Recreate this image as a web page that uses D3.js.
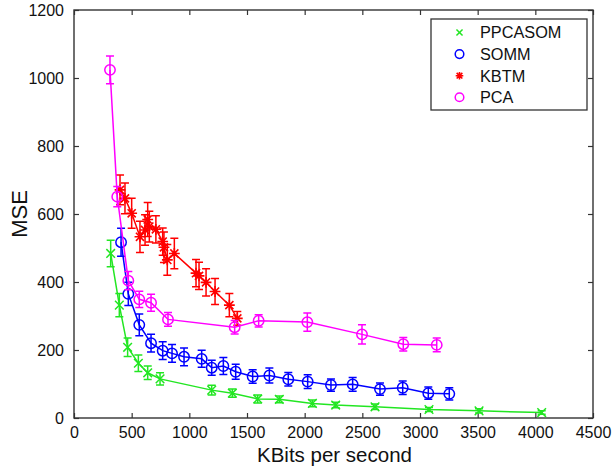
<!DOCTYPE html>
<html>
<head>
<meta charset="utf-8">
<script src="https://cdn.jsdelivr.net/npm/d3@7"></script>
<style>
  html, body { margin: 0; padding: 0; background: #fff; }
  svg { display: block; font-family: "Liberation Sans", Arial, Helvetica, sans-serif; }
</style>
</head>
<body>
<svg id="chart" width="612" height="468"></svg>
<script>
// Rate–distortion curves: MSE versus bitrate, mean with error bars
const xTicks = [0, 500, 1000, 1500, 2000, 2500, 3000, 3500, 4000, 4500];
const yTicks = [0, 200, 400, 600, 800, 1000, 1200];

const seriesNames = ["PPCASOM", "SOMM", "KBTM", "PCA"];

const ppcasomX = [318, 393, 465, 558, 639, 746, 1194, 1373, 1593, 1780, 2067, 2269, 2610, 3078, 3512, 4055];
const ppcasomY = [484, 332, 208, 161, 133, 115, 82, 73, 56, 55, 43, 38, 33, 25, 21, 16];
const ppcasomErr = [39, 34, 27, 24, 20, 18, 14, 12, 12, 10, 10, 8, 8, 6, 6, 5];

const sommX = [408, 471, 566, 668, 769, 850, 954, 1107, 1194, 1295, 1402, 1549, 1694, 1858, 2026, 2228, 2416, 2653, 2850, 3072, 3254];
const sommY = [517, 365, 274, 220, 198, 190, 180, 174, 148, 153, 136, 122, 125, 114, 107, 97, 99, 85, 89, 73, 71];
const sommErr = [41, 34, 32, 26, 26, 26, 26, 25, 22, 25, 22, 20, 22, 20, 20, 18, 20, 18, 20, 18, 18];

const kbtmX = [399, 442, 500, 572, 616, 639, 653, 710, 769, 780, 809, 870, 1058, 1084, 1145, 1223, 1347, 1416];
const kbtmY = [671, 646, 602, 533, 553, 584, 563, 555, 519, 502, 465, 484, 426, 418, 399, 372, 332, 293];
const kbtmErr = [44, 45, 44, 46, 45, 50, 45, 40, 40, 45, 45, 45, 40, 40, 40, 38, 34, 20];

const pcaX = [312, 375, 471, 566, 668, 815, 1393, 1601, 2023, 2497, 2855, 3145];
const pcaY = [1024, 651, 404, 349, 339, 290, 267, 286, 282, 246, 217, 215];
const pcaErr = [41, 30, 27, 24, 25, 20, 20, 18, 27, 28, 20, 20];

const colors = ["#22e622", "#0000ff", "#ff0000", "#ff00ff"];
const markers = ["x", "o", "*", "o"];

const series = [
  { x: ppcasomX, y: ppcasomY, e: ppcasomErr },
  { x: sommX, y: sommY, e: sommErr },
  { x: kbtmX, y: kbtmY, e: kbtmErr },
  { x: pcaX, y: pcaY, e: pcaErr }
].map((s, i) => ({
  name: seriesNames[i], color: colors[i], marker: markers[i],
  pts: s.x.map((v, j) => ({ x: v, y: s.y[j], e: s.e[j] }))
}));

const plot = { left: 74, right: 593, top: 10, bottom: 418 };
const svg = d3.select("#chart");

const x = d3.scaleLinear().domain([0, 4500]).range([plot.left, plot.right]);
const y = d3.scaleLinear().domain([0, 1200]).range([plot.bottom, plot.top]);

const frameColor = "#333";
const tickLen = 5;

// axes with inward ticks on all four sides
const axisStyle = g => {
  g.select(".domain").remove();
  g.selectAll(".tick line").attr("stroke", frameColor).attr("stroke-width", 1.2);
  g.selectAll(".tick text").attr("fill", "#111").style("font-size", "16px")
    .style("font-family", "'Liberation Sans', Arial, sans-serif");
};

svg.append("g").attr("transform", `translate(0,${plot.bottom})`)
  .call(d3.axisBottom(x).tickValues(xTicks).tickSizeInner(-tickLen).tickSizeOuter(0).tickPadding(9).tickFormat(d3.format("d")))
  .call(axisStyle);
svg.append("g").attr("transform", `translate(0,${plot.top})`)
  .call(d3.axisTop(x).tickValues(xTicks).tickSizeInner(-tickLen).tickSizeOuter(0).tickFormat(""))
  .call(axisStyle);
svg.append("g").attr("transform", `translate(${plot.left},0)`)
  .call(d3.axisLeft(y).tickValues(yTicks).tickSizeInner(-tickLen).tickSizeOuter(0).tickPadding(10).tickFormat(d3.format("d")))
  .call(axisStyle);
svg.append("g").attr("transform", `translate(${plot.right},0)`)
  .call(d3.axisRight(y).tickValues(yTicks).tickSizeInner(-tickLen).tickSizeOuter(0).tickFormat(""))
  .call(axisStyle);

svg.append("rect")
  .attr("x", plot.left).attr("y", plot.top)
  .attr("width", plot.right - plot.left).attr("height", plot.bottom - plot.top)
  .attr("fill", "none").attr("stroke", frameColor).attr("stroke-width", 1.4);

// axis titles
svg.append("text")
  .attr("x", (plot.left + plot.right) / 2 + 1).attr("y", 462)
  .attr("text-anchor", "middle").attr("fill", "#111")
  .style("font-size", "20.5px")
  .text("KBits per second");
svg.append("text")
  .attr("transform", `translate(27,${(plot.top + plot.bottom) / 2}) rotate(-90)`)
  .attr("text-anchor", "middle").attr("fill", "#111")
  .style("font-size", "22px")
  .text("MSE");

// marker drawing
function drawMarker(g, type, cx, cy, color, size) {
  const r = size;
  if (type === "o") {
    g.append("circle").attr("cx", cx).attr("cy", cy).attr("r", r)
      .attr("fill", "none").attr("stroke", color).attr("stroke-width", 1.5);
  } else if (type === "x") {
    const d = r * 0.8;
    g.append("path")
      .attr("d", `M${cx - d},${cy - d}L${cx + d},${cy + d}M${cx - d},${cy + d}L${cx + d},${cy - d}`)
      .attr("stroke", color).attr("stroke-width", 1.5).attr("fill", "none");
  } else if (type === "*") {
    const d = r * 0.75;
    g.append("path")
      .attr("d", `M${cx - r},${cy}L${cx + r},${cy}M${cx},${cy - r}L${cx},${cy + r}` +
                 `M${cx - d},${cy - d}L${cx + d},${cy + d}M${cx - d},${cy + d}L${cx + d},${cy - d}`)
      .attr("stroke", color).attr("stroke-width", 1.6).attr("fill", "none");
  }
}

const line = d3.line().x(d => x(d.x)).y(d => y(d.y));
const cap = 4;

// draw series in order: later ones on top
series.forEach(s => {
  const g = svg.append("g");
  g.append("path").datum(s.pts).attr("d", line)
    .attr("fill", "none").attr("stroke", s.color).attr("stroke-width", 1.5);
  s.pts.forEach(p => {
    const px = x(p.x), y0 = y(p.y - p.e), y1 = y(p.y + p.e);
    g.append("path")
      .attr("d", `M${px},${y0}L${px},${y1}M${px - cap},${y0}L${px + cap},${y0}M${px - cap},${y1}L${px + cap},${y1}`)
      .attr("stroke", s.color).attr("stroke-width", 1.5).attr("fill", "none");
    drawMarker(g, s.marker, px, y(p.y), s.color, s.marker === "o" ? 5.2 : 5.4);
  });
});

// legend
const lg = svg.append("g");
lg.append("rect").attr("x", 431).attr("y", 19).attr("width", 156).attr("height", 91)
  .attr("fill", "#fff").attr("stroke", frameColor).attr("stroke-width", 1.3);
series.forEach((s, i) => {
  const cy = 32.5 + i * 21.6;
  drawMarker(lg, s.marker, 459.5, cy, s.color, s.marker === "o" ? 4.3 : 3.8);
  lg.append("text").attr("x", 480).attr("y", cy + 5.8)
    .attr("fill", "#111").style("font-size", "16.3px").text(s.name);
});
</script>
</body>
</html>
